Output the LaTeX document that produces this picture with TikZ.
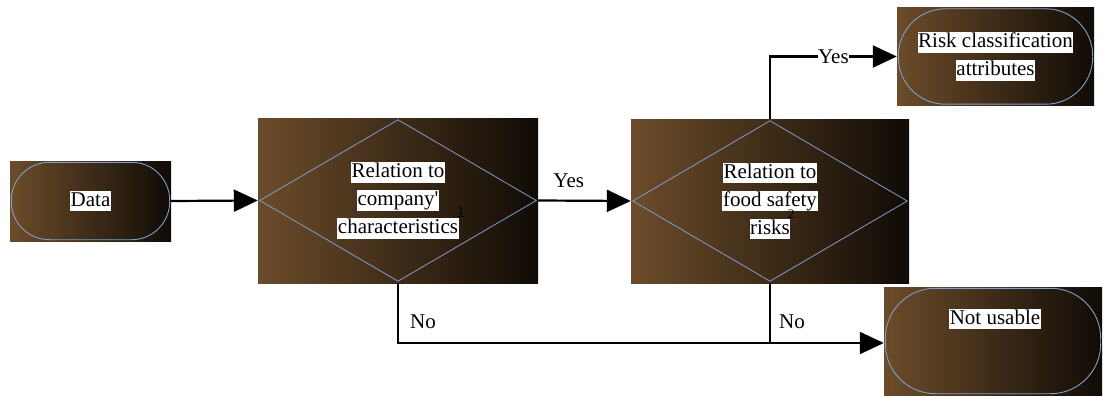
\documentclass[tikz,border=0pt]{standalone}
\usepackage{fontspec}
\setmainfont{Liberation Serif}
\newfontfamily\tnr{Liberation Serif}
\usetikzlibrary{arrows.meta}
\definecolor{brL}{RGB}{108,76,42}
\definecolor{brR}{RGB}{16,11,6}
\definecolor{edgeblue}{RGB}{128,158,198}
\newcommand\wl[1]{{\setlength{\fboxsep}{0.6pt}\colorbox{white}{\rule[-4.5pt]{0pt}{19pt}#1}}}
\tikzset{
  box/.style={rectangle, left color=brL, right color=brR, inner sep=0pt, align=center,
    font=\tnr\fontsize{21}{28}\selectfont, text=black},
  outline/.style={draw=edgeblue, line width=0.9pt},
  conn/.style={line width=2.2pt, -{Triangle[length=24pt,width=22pt]}},
  plain/.style={line width=2.2pt},
  lbl/.style={font=\tnr\fontsize{21}{26}\selectfont, inner sep=1pt},
  sub/.style={font=\tnr\fontsize{13}{13}\selectfont, inner sep=0pt}
}
\begin{document}
\begin{tikzpicture}[x=1pt,y=-1pt]
\useasboundingbox[fill=white] (0,0) rectangle (1104,396);
% boxes
\node[box, minimum width=161pt, minimum height=80pt] (data) at (90.5,201) {\wl{Data}};
\node[box, minimum width=280pt, minimum height=165pt] (d1) at (398,200.5)
  {\wl{Relation to}\\\wl{company'}\\\wl{characteristics}};
\node[box, minimum width=278pt, minimum height=164pt] (d2) at (770,201)
  {\wl{Relation to}\\\wl{food safety}\\\wl{risks}};
\node[box, minimum width=197pt, minimum height=98pt] (risk) at (995.5,56.5)
  {\wl{Risk classification}\\\wl{attributes}};
\node[box, minimum width=218pt, minimum height=108pt] (nu) at (993,341) {};
\node[lbl, fill=white, inner sep=0.6pt] (nut) at (995,319) {\rule[-4.5pt]{0pt}{19pt}Not usable};
% outlines
\draw[outline, rounded corners=38pt] ([shift={(1.5pt,-1.5pt)}]data.north west) rectangle ([shift={(-1.5pt,1.5pt)}]data.south east);
\draw[outline, rounded corners=47pt] ([shift={(1.5pt,-1.5pt)}]risk.north west) rectangle ([shift={(-1.5pt,1.5pt)}]risk.south east);
\draw[outline, rounded corners=50pt] ([shift={(1.5pt,-1.5pt)}]nu.north west) rectangle ([shift={(-1.5pt,1.5pt)}]nu.south east);
\draw[outline, line width=0.8pt] ([xshift=2pt]d1.west) -- ([yshift=-2pt]d1.north) -- ([xshift=-2pt]d1.east) -- ([yshift=2pt]d1.south) -- cycle;
\draw[outline, line width=0.8pt] ([xshift=2pt]d2.west) -- ([yshift=-2pt]d2.north) -- ([xshift=-2pt]d2.east) -- ([yshift=2pt]d2.south) -- cycle;
% subscripts
\node[sub] (s1) at (461,212) {\underline{1}};
\node[sub] (s2) at (791,214) {2};
% connectors
\coordinate (nuin) at ([yshift=-2pt]nu.west);
\coordinate (j) at (d2.south |- nuin);
\draw[conn] (data.east) -- (d1.west);
\draw[conn] (d1.east) -- node[lbl, pos=0.33, above=11pt] (yes1) {Yes} (d2.west);
\draw[conn] (d2.north) |- node[lbl, pos=0.75, fill=white, inner sep=0pt] (yes2) {Yes} (risk.west);
\draw[conn] (d1.south) |- (nuin);
\draw[plain] (d2.south) -- (j);
\node[lbl] (no1) at (423,322) {No};
\node[lbl] (no2) at (792,322) {No};
\end{tikzpicture}
\end{document}
